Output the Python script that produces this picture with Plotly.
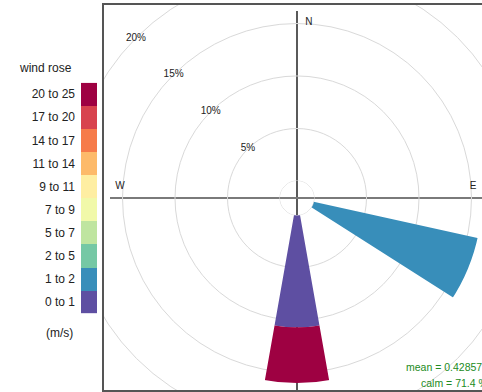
import math
import plotly.graph_objects as go

# ---------------- data ----------------
speed_bins = ["0 to 1", "1 to 2", "2 to 5", "5 to 7", "7 to 9",
              "9 to 11", "11 to 14", "14 to 17", "17 to 20", "20 to 25"]
bin_colors = ["#5E4FA2", "#388EBA", "#75C8A5", "#BFE5A0", "#F1F9A9",
              "#FEEEA2", "#FDBA6A", "#F67B4A", "#D8434E", "#9E0142"]
directions = [112.5, 180.0]          # sector bearings (deg) with data
pct_0_1 = [0.0, 10.7]                # % frequency, 0 to 1 m/s
pct_1_2 = [16.1, 0.0]                # % frequency, 1 to 2 m/s
pct_20_25 = [0.0, 5.5]               # % frequency, 20 to 25 m/s
grid_pct = [5, 10, 15, 20]
grid_labels = ["5%", "10%", "15%", "20%"]
compass_labels = ["N", "E", "W"]
mean_ws = 0.428571
calm_pct = 71.4

series = {"0 to 1": pct_0_1, "1 to 2": pct_1_2, "20 to 25": pct_20_25}

# ---------------- geometry ----------------
W, H = 482, 392
CX, CY = 297, 198
R_PX = 185
HOLE_PX = 17
R_MAX = 16.0
PX_PER_PCT = (R_PX - HOLE_PX) / R_MAX
P_LEFT, P_TOP, P_RIGHT, P_BOTTOM = 104, 5, 482, 390
FONT = "Liberation Sans, Arial, sans-serif"

fig = go.Figure()

# panel frame (cartesian, pixel units relative to rose centre)
fig.add_trace(go.Scatter(x=[], y=[], xaxis="x", yaxis="y", showlegend=False))

# legend key as a one-column heatmap
fig.add_trace(go.Heatmap(
    x=[0], y=speed_bins, z=[[i] for i in range(len(speed_bins))],
    zmin=0, zmax=len(speed_bins) - 1,
    colorscale=[[i / (len(bin_colors) - 1), c] for i, c in enumerate(bin_colors)],
    showscale=False, xaxis="x2", yaxis="y2", hoverinfo="skip"))

# wind rose bars
for name, color in zip(speed_bins, bin_colors):
    if name in series:
        fig.add_trace(go.Barpolar(
            r=series[name], theta=directions, width=20,
            marker=dict(color=color, line=dict(width=0)),
            name=name, showlegend=False, subplot="polar"))

# calm circle (r = 0 sits on the hole edge)
fig.add_trace(go.Scatterpolar(
    r=[0] * 73, theta=[i * 5 for i in range(73)], mode="lines",
    line=dict(color="#D9D9D9", width=1), showlegend=False,
    hoverinfo="skip", subplot="polar"))

# percentage labels along the NW diagonal (inside the radial range)
in_range = [i for i, p in enumerate(grid_pct) if p <= R_MAX]
fig.add_trace(go.Scatterpolar(
    r=[grid_pct[i] for i in in_range], theta=[315] * len(in_range), mode="text",
    text=[grid_labels[i] for i in in_range],
    textfont=dict(family=FONT, size=10, color="#222"), cliponaxis=False,
    showlegend=False, hoverinfo="skip", subplot="polar"))

# compass labels
fig.add_trace(go.Scatterpolar(
    r=[15.09, 15.18, 15.27], theta=[3.9, 86.1, 273.6], mode="text",
    text=compass_labels, textfont=dict(family=FONT, size=10, color="#222"),
    cliponaxis=False, showlegend=False, hoverinfo="skip", subplot="polar"))

r20 = HOLE_PX + PX_PER_PCT * grid_pct[-1]
L = R_PX + 2
shapes = [
    dict(type="circle", xref="x", yref="y", x0=-r20, x1=r20, y0=-r20, y1=r20,
         line=dict(color="#D9D9D9", width=1), layer="below"),
    dict(type="line", xref="x", yref="y", x0=0, x1=0, y0=-(P_BOTTOM - CY) - 5, y1=L,
         line=dict(color="black", width=1.3), layer="below"),
    dict(type="line", xref="x", yref="y", x0=-L, x1=P_RIGHT - CX + 5, y0=0, y1=0,
         line=dict(color="#7a7a7a", width=1.8), layer="below"),
]

annotations = [
    dict(text="wind rose", x=74 / W, y=(H - 68.3) / H, xref="paper", yref="paper",
         xanchor="right", yanchor="middle", showarrow=False,
         font=dict(family=FONT, size=12, color="#222")),
    dict(text="(m/s)", x=75 / W, y=(H - 332.7) / H, xref="paper", yref="paper",
         xanchor="right", yanchor="middle", showarrow=False,
         font=dict(family=FONT, size=12, color="#222")),
    dict(text=f"mean = {mean_ws:g}", x=490 / W, y=(H - 367) / H, xref="paper",
         yref="paper", xanchor="right", yanchor="middle", showarrow=False,
         font=dict(family=FONT, size=10.5, color="forestgreen")),
    dict(text=f"calm = {calm_pct} %", x=490 / W, y=(H - 383) / H, xref="paper",
         yref="paper", xanchor="right", yanchor="middle", showarrow=False,
         font=dict(family=FONT, size=10.5, color="forestgreen")),
]
# grid labels beyond the radial range, placed on the same diagonal in the panel frame
for p, lab in zip(grid_pct, grid_labels):
    if p > R_MAX:
        rp = HOLE_PX + PX_PER_PCT * p
        annotations.append(dict(
            text=lab, x=-rp * math.sin(math.radians(45)),
            y=rp * math.cos(math.radians(45)), xref="x", yref="y",
            xanchor="center", yanchor="middle", showarrow=False,
            font=dict(family=FONT, size=10, color="#222")))

fig.update_layout(
    width=W, height=H, margin=dict(l=0, r=0, t=0, b=0),
    paper_bgcolor="white", plot_bgcolor="white",
    font=dict(family=FONT),
    showlegend=False,
    xaxis=dict(domain=[P_LEFT / W, 1], range=[P_LEFT - CX, P_RIGHT - CX],
               anchor="y", showgrid=False, zeroline=False, showticklabels=False,
               ticks="", showline=True, mirror=True, linecolor="#555",
               linewidth=1.5, fixedrange=True),
    yaxis=dict(domain=[(H - P_BOTTOM) / H, (H - P_TOP) / H],
               range=[CY - P_BOTTOM, CY - P_TOP], anchor="x", showgrid=False,
               zeroline=False, showticklabels=False, ticks="", showline=True,
               mirror=False, linecolor="#555", linewidth=1.5, fixedrange=True),
    xaxis2=dict(domain=[81 / W, 97 / W], anchor="y2", visible=False,
                fixedrange=True),
    yaxis2=dict(domain=[(H - 313.3) / H, (H - 82.7) / H], anchor="x2",
                type="category", showgrid=False, zeroline=False, ticks="",
                showline=False, ticklabelstandoff=5,
                tickfont=dict(family=FONT, size=12, color="#222"),
                fixedrange=True),
    polar=dict(
        domain=dict(x=[(CX - R_PX) / W, (CX + R_PX) / W],
                    y=[(H - CY - R_PX) / H, (H - CY + R_PX) / H]),
        hole=HOLE_PX / R_PX,
        bgcolor="rgba(0,0,0,0)",
        barmode="stack",
        radialaxis=dict(range=[0, R_MAX], tickvals=grid_pct[:-1],
                        showticklabels=False, ticks="", showline=False,
                        gridcolor="#D9D9D9", gridwidth=1),
        angularaxis=dict(direction="clockwise", rotation=90, showgrid=False,
                         showticklabels=False, ticks="", showline=False),
    ),
    shapes=shapes,
    annotations=annotations,
)

fig.write_html(
    "out.html",
    config={"displayModeBar": False},
    post_script="document.body.style.margin='0';document.body.style.padding='0';",
)
